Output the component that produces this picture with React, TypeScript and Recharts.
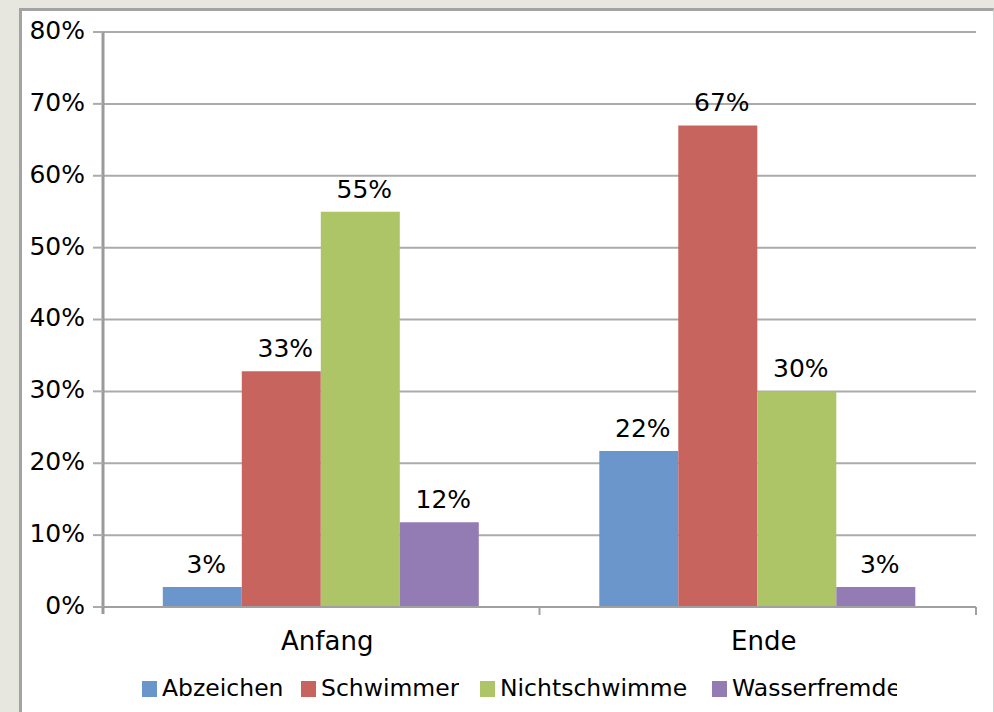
import React from 'react';
import { BarChart, Bar, XAxis, YAxis, CartesianGrid, Legend, LabelList } from 'recharts';

const categories = ['Anfang', 'Ende'];
const abzeichen = [2.8, 21.7];
const schwimmer = [32.8, 67];
const nichtschwimmer = [55, 30];
const wasserfremde = [11.8, 2.8];
const seriesNames = ['Abzeichen', 'Schwimmer', 'Nichtschwimmer', 'Wasserfremde'];
const seriesKeys = ['abzeichen', 'schwimmer', 'nichtschwimmer', 'wasserfremde'];
const seriesColors = ['#6a96cb', '#c7645e', '#adc566', '#937cb3'];
const yTicks = [0, 10, 20, 30, 40, 50, 60, 70, 80];

const data = categories.map((c, i) => ({
  category: c,
  abzeichen: abzeichen[i],
  schwimmer: schwimmer[i],
  nichtschwimmer: nichtschwimmer[i],
  wasserfremde: wasserfremde[i],
}));

const FONT = '"DejaVu Sans", "Lucida Grande", sans-serif';
const X_TICK_MARGIN = 25;
const legendItemWidths = [159, 179, 232, 200];
const legendTextClip = [139, 159, 188, 165];

const CategoryTick = (props: any) => {
  const { x, y, payload, index } = props;
  const off = payload && payload.offset ? payload.offset : 0;
  const axisY = y - X_TICK_MARGIN;
  return (
    <g>
      <text x={x + 6} y={y} dy="0.71em" textAnchor="middle" fontSize={26} fill="#000" fontFamily={FONT}>
        {payload.value}
      </text>
      <line x1={x + off} x2={x + off} y1={axisY} y2={axisY + 8} stroke="#a0a0a0" strokeWidth={2} />
      {index === 0 ? (
        <line x1={x - off} x2={x - off} y1={axisY} y2={axisY + 7} stroke="#9a9a9a" strokeWidth={3} />
      ) : null}
    </g>
  );
};

const DataLabel = (props: any) => {
  const { x, y, width, value } = props;
  return (
    <text x={x + width / 2 + 4} y={y - 14} textAnchor="middle" fontSize={25} fill="#000" fontFamily={FONT}>
      {Math.round(value) + '%'}
    </text>
  );
};

const LegendContent = () => (
  <div style={{ display: 'flex', fontFamily: FONT, fontSize: 23.5, lineHeight: '28px', color: '#000' }}>
    {seriesNames.map((n, i) => (
      <div key={n} style={{ width: legendItemWidths[i], display: 'flex', alignItems: 'flex-start', whiteSpace: 'nowrap' }}>
        <div style={{ width: 15, height: 16, marginTop: 7, background: seriesColors[i], flex: 'none' }} />
        <div style={{ marginLeft: 5, maxWidth: legendTextClip[i], overflow: 'hidden' }}>{n}</div>
      </div>
    ))}
  </div>
);

export default function App() {
  return (
    <div style={{ position: 'fixed', left: 0, top: 0, width: 994, height: 712, background: '#e7e7e0', overflow: 'hidden' }}>
      <div
        style={{
          position: 'absolute',
          left: 19,
          top: 8,
          width: 975,
          height: 720,
          background: '#fff',
          borderLeft: '3px solid #a3a3a3',
          borderTop: '3px solid #a3a3a3',
          borderRight: '1px solid #d4d4d4',
          boxSizing: 'border-box',
        }}
      />
      <div style={{ position: 'absolute', left: 0, top: 0 }}>
        <BarChart
          width={994}
          height={712}
          data={data}
          margin={{ top: 32, right: 18, bottom: 45, left: 0 }}
          barGap={0}
          barCategoryGap="13.7%"
          style={{ fontFamily: FONT }}
        >
          <CartesianGrid vertical={false} stroke="#ababab" strokeWidth={2} />
          <YAxis
            width={103}
            domain={[0, 80]}
            ticks={yTicks}
            interval={0}
            tickSize={10}
            tickMargin={8}
            tickFormatter={(v: number) => v + '%'}
            tick={{ fontSize: 25, fill: '#000', fontFamily: FONT, dy: -2 }}
            axisLine={{ stroke: '#9a9a9a', strokeWidth: 3 }}
            tickLine={{ stroke: '#ababab', strokeWidth: 2 }}
          />
          <XAxis
            dataKey="category"
            height={60}
            interval={0}
            tickSize={0}
            tickMargin={X_TICK_MARGIN}
            tickLine={false}
            axisLine={{ stroke: '#a0a0a0', strokeWidth: 2 }}
            tick={<CategoryTick />}
          />
          <Legend
            layout="horizontal"
            verticalAlign="middle"
            align="center"
            content={<LegendContent />}
            wrapperStyle={{ position: 'absolute', left: 142, top: 674, width: 800 }}
          />
          {seriesKeys.map((k, i) => (
            <Bar key={k} dataKey={k} name={seriesNames[i]} fill={seriesColors[i]} isAnimationActive={false}>
              <LabelList dataKey={k} content={<DataLabel />} />
            </Bar>
          ))}
        </BarChart>
      </div>
    </div>
  );
}
